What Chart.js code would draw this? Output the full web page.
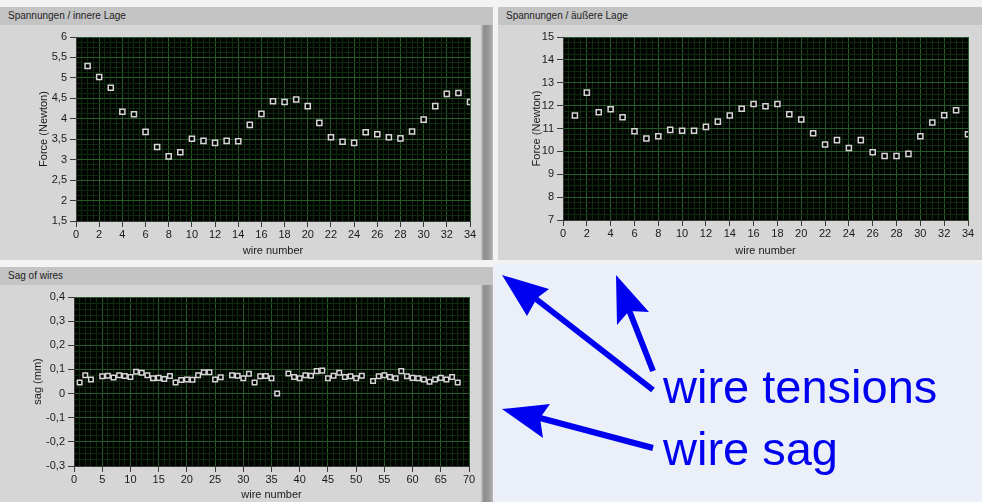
<!DOCTYPE html>
<html>
<head>
<meta charset="utf-8">
<script src="https://cdn.jsdelivr.net/npm/chart.js@4.4.1/dist/chart.umd.min.js"></script>
<style>
  body { margin: 0; width: 982px; height: 502px; overflow: hidden; position: relative;
         background: #f3f3f3; font-family: "Liberation Sans", Arial, sans-serif; }
  .note { position: absolute; left: 494px; top: 263px; width: 488px; height: 239px; background: #ebf0f8; }
  .panel { position: absolute; background: #d6d6d6; }
  .bar { position: absolute; left: 0; right: 0; top: 0; height: 18px; background: #c4c4c4;
         font-size: 10px; color: #222; line-height: 18px; padding-left: 8px; box-sizing: border-box; }
  .scroll { position: absolute; right: 0; width: 12px; top: 18px; bottom: 0;
            background: linear-gradient(to right, #c6c6c6, #8c8c8c 25%, #9e9e9e 75%, #b8b8b8); }
  canvas { position: absolute; }
  svg { position: absolute; left: 0; top: 0; }
</style>
</head>
<body>
<div class="note"></div>

<div class="panel" style="left:0;top:7px;width:493px;height:253px">
  <div class="bar">Spannungen / innere Lage</div>
  <div class="scroll"></div>
  <canvas id="inner" width="480" height="234" style="left:0;top:19px"></canvas>
</div>

<div class="panel" style="left:498px;top:7px;width:484px;height:253px">
  <div class="bar">Spannungen / äußere Lage</div>
  <canvas id="outer" width="484" height="234" style="left:0;top:19px"></canvas>
</div>

<div class="panel" style="left:0;top:267px;width:493px;height:235px">
  <div class="bar">Sag of wires</div>
  <div class="scroll"></div>
  <canvas id="sag" width="480" height="217" style="left:0;top:18px"></canvas>
</div>

<svg width="982" height="502">
  <g fill="#0000f0" stroke="none">
    <line x1="653" y1="390" x2="536" y2="299" stroke="#0000f0" stroke-width="6"/>
    <polygon points="502,275 549,289 537,298 527,316"/>
    <line x1="653" y1="371" x2="629" y2="310" stroke="#0000f0" stroke-width="6"/>
    <polygon points="616,275 649,312 629,311 617,325"/>
    <line x1="653" y1="448" x2="540" y2="418" stroke="#0000f0" stroke-width="6"/>
    <polygon points="502,409 550,404 540,418 543,438"/>
  </g>
  <text x="663" y="403" font-family="Liberation Sans, Arial, sans-serif" font-size="47" fill="#0000f0">wire tensions</text>
  <text x="663" y="465" font-family="Liberation Sans, Arial, sans-serif" font-size="47" fill="#0000f0">wire sag</text>
</svg>

<script>
// wire tensions, inner layer (Newton)
const innerWires = [1,2,3,4,5,6,7,8,9,10,11,12,13,14,15,16,17,18,19,20,21,22,23,24,25,26,27,28,29,30,31,32,33,34];
const innerForce = [5.29,5.02,4.76,4.17,4.11,3.68,3.31,3.08,3.18,3.51,3.46,3.41,3.46,3.45,3.85,4.12,4.43,4.41,4.47,4.31,
                    3.90,3.55,3.44,3.41,3.67,3.62,3.55,3.52,3.69,3.98,4.31,4.61,4.63,4.41];

// wire tensions, outer layer (Newton)
const outerWires = [1,2,3,4,5,6,7,8,9,10,11,12,13,14,15,16,17,18,19,20,21,22,23,24,25,26,27,28,29,30,31,32,33,34];
const outerForce = [11.57,12.57,11.71,11.84,11.49,10.88,10.56,10.66,10.94,10.90,10.90,11.07,11.30,11.57,11.86,12.07,11.97,12.07,
                    11.62,11.39,10.79,10.30,10.49,10.15,10.49,9.96,9.80,9.80,9.89,10.66,11.26,11.58,11.80,10.75];

// sag of wires (mm); wires 4, 27, 37 and 52 have no value
const sagWires = [1,2,3,5,6,7,8,9,10,11,12,13,14,15,16,17,18,19,20,21,22,23,24,25,26,28,29,30,31,32,33,34,35,36,
                  38,39,40,41,42,43,44,45,46,47,48,49,50,51,53,54,55,56,57,58,59,60,61,62,63,64,65,66,67,68];
const sagValues = [0.046,0.076,0.058,0.072,0.074,0.067,0.076,0.073,0.069,0.090,0.086,0.076,0.063,0.065,0.060,0.073,0.046,0.056,
                   0.058,0.057,0.076,0.088,0.088,0.058,0.068,0.076,0.074,0.063,0.082,0.046,0.072,0.073,0.063,0.000,
                   0.083,0.069,0.063,0.076,0.074,0.093,0.095,0.063,0.074,0.086,0.069,0.072,0.063,0.074,
                   0.052,0.072,0.076,0.069,0.063,0.093,0.072,0.065,0.063,0.058,0.049,0.058,0.065,0.058,0.069,0.046];

const tickFont = { family: "Liberation Sans, Arial, sans-serif", size: 11 };
const isMajor = (v, step) => Math.abs(v / step - Math.round(v / step)) < 1e-6;
const fmt = v => String(Number(v.toFixed(3))).replace('.', ',');

const plotBg = {
  id: 'plotBg',
  beforeDraw(chart) {
    const a = chart.chartArea, c = chart.ctx;
    c.save();
    c.fillStyle = '#010401';
    c.fillRect(a.left, a.top, a.right - a.left, a.bottom - a.top);
    c.restore();
  }
};

function axis(o) {
  const horiz = o.horiz;
  return {
    type: 'linear',
    min: o.min, max: o.max,
    afterFit: s => { if (horiz) s.height = o.size; else s.width = o.size; },
    ticks: {
      stepSize: o.minor, autoSkip: false, maxRotation: 0, minRotation: 0,
      padding: horiz ? 1 : 3, color: '#1a1a1a', font: tickFont,
      callback: v => isMajor(v, o.major) ? fmt(v) : ''
    },
    grid: {
      color: c => isMajor(c.tick.value, o.major) ? '#295a29' : '#0f2a0f',
      tickColor: c => isMajor(c.tick.value, o.major) ? '#3a3a3a' : 'rgba(0,0,0,0)',
      tickLength: 6, lineWidth: 1
    },
    border: { display: true, color: '#3a3a3a' },
    title: {
      display: true, text: o.title, color: '#1a1a1a',
      font: { family: "Liberation Sans, Arial, sans-serif", size: 11 },
      padding: horiz ? { top: 0, bottom: o.tpad } : { top: o.tpad, bottom: 0 }
    }
  };
}

function panelChart(id, xs, ys, pad, xAxis, yAxis, radius) {
  return new Chart(document.getElementById(id), {
    type: 'scatter',
    data: {
      datasets: [{
        data: xs.map((x, i) => ({ x: x, y: ys[i] })),
        pointStyle: 'rect',
        pointRadius: radius,
        pointBorderWidth: 1.5,
        pointBorderColor: '#d6d6d6',
        pointBackgroundColor: '#000'
      }]
    },
    options: {
      responsive: false,
      animation: false,
      events: [],
      layout: { padding: pad },
      plugins: { legend: { display: false }, tooltip: { enabled: false } },
      scales: { x: axis(xAxis), y: axis(yAxis) }
    },
    plugins: [plotBg]
  });
}

panelChart('inner', innerWires, innerForce, { left: 0, top: 11, right: 10, bottom: 0 },
  { horiz: true, min: 0, max: 34, minor: 0.5, major: 2, size: 39, title: 'wire number', tpad: 2 },
  { horiz: false, min: 1.5, max: 6, minor: 0.125, major: 0.5, size: 76, title: 'Force (Newton)', tpad: 37 }, 3.6);

panelChart('outer', outerWires, outerForce, { left: 0, top: 11, right: 14, bottom: 0 },
  { horiz: true, min: 0, max: 34, minor: 0.5, major: 2, size: 40, title: 'wire number', tpad: 2 },
  { horiz: false, min: 7, max: 15, minor: 0.25, major: 1, size: 65, title: 'Force (Newton)', tpad: 32 }, 3.6);

panelChart('sag', sagWires, sagValues, { left: 0, top: 12, right: 11, bottom: 0 },
  { horiz: true, min: 0, max: 70, minor: 1, major: 5, size: 36, title: 'wire number', tpad: 0 },
  { horiz: false, min: -0.3, max: 0.4, minor: 0.025, major: 0.1, size: 74, title: 'sag (mm)', tpad: 31 }, 3.2);
</script>
</body>
</html>
